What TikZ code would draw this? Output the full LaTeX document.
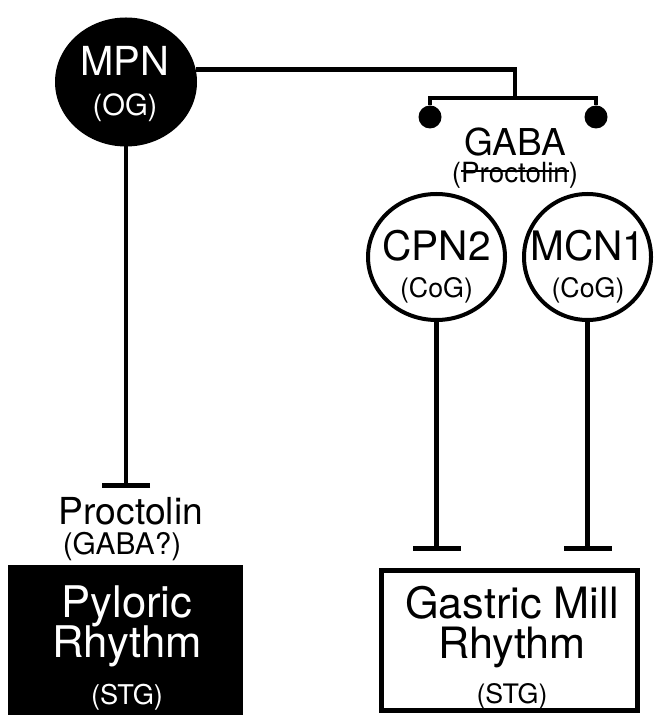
\documentclass[tikz,border=0pt]{standalone}
\usepackage{fontspec}
\setmainfont{TeX Gyre Heros}
\usetikzlibrary{positioning,arrows.meta,shapes.geometric}
\setlength{\lineskiplimit}{-20pt}
\newcommand{\fsz}[2]{{\fontsize{#1}{#1}\selectfont #2}}
\newcommand{\strk}[1]{\setbox0\hbox{#1}\rlap{\raise0.38em\hbox{\vrule height 0.6pt depth 0pt width\wd0}}\box0}
\tikzset{%
neuron/.style={draw,ellipse,line width=2pt,inner sep=0,outer sep=0},
darkneuron/.style={ellipse,fill=black,inner sep=0,outer sep=0},
celltext/.style={align=center,inner sep=0,font=\fontsize{13.4}{18.5}\selectfont},
wire/.style={line width=2.4pt},
inhib/.style={wire,-{Bar[width=24pt]}},
excite/.style={fill,circle,minimum size=11.5pt,inner sep=0,outer sep=0},
rhythmbox/.style={rectangle,inner sep=0,outer sep=0},
boxtext/.style={align=center,inner sep=0,font=\fontsize{13.5}{20}\selectfont},
tlabel/.style={inner sep=0}
}

\begin{document}
\begin{tikzpicture}[x=0.5pt,y=-0.5pt]
  \useasboundingbox (0,0) rectangle (656,715);

  % cells
  \node[darkneuron,minimum width=71pt,minimum height=64.5pt] (mpn) at (126,82) {};
  \node[celltext,text=white,font=\fontsize{14.6}{20}\selectfont] (mpntxt) at (125,84) {\fsz{20}{MPN}\\(OG)};
  \node[neuron,minimum width=68.5pt,minimum height=63pt] (cpn2) at (436.5,257) {};
  \node[celltext] (cpn2txt) at (436.5,267) {\fsz{20.3}{CPN2}\\(CoG)};
  \node[neuron,minimum width=63.5pt,minimum height=63pt] (mcn1) at (587.5,257) {};
  \node[celltext] (mcn1txt) at (588,267) {\fsz{20.3}{MCN1}\\(CoG)};

  % transmitters
  \node[tlabel,align=center,font=\fontsize{13.9}{13.2}\selectfont] (gaba) at (515,158) {\fsz{18.5}{GABA}\\(\strk{Proctolin})};
  \node[tlabel,font=\fontsize{18.6}{18.6}\selectfont] (procto) at (131,511) {Proctolin};
  \node[tlabel,font=\fontsize{14.9}{14.9}\selectfont] (proctoalt) at (122,547) {(GABA?)};

  % targets
  \node[rhythmbox,fill=black,minimum width=117.5pt,minimum height=75pt] (pyloric) at (125.5,640) {};
  \node[boxtext,text=white,font=\fontsize{13.6}{19.6}\selectfont] (pylorictxt) at (127,648) {\fsz{21.8}{Pyloric}\\\fsz{21.8}{Rhythm}\\[4pt](STG)};
  \node[rhythmbox,draw,line width=2.5pt,minimum width=128pt,minimum height=70pt] (gastric) at (509.5,640.5) {};
  \node[boxtext,font=\fontsize{13.4}{20}\selectfont] (gastrictxt) at (512,647.5) {\fsz{21.6}{Gastric Mill}\\\fsz{21.6}{Rhythm}\\[2.5pt](STG)};

  % synapses
  \coordinate (fork) at (515,98);
  \node[excite] (gabaL) at (430,117) {};
  \node[excite] (gabaR) at (596,117) {};
  \coordinate (mpnend) at (126,488);
  \coordinate (cpn2end) at (436.5,551);
  \coordinate (mcn1end) at (587.5,551);

  \draw[wire] (mpn.10) -| (fork);
  \draw[wire] (gabaL) -- (gabaL |- fork) -- (gabaR |- fork) -- (gabaR);
  \draw[inhib] (mpn) -- (mpnend);
  \draw[inhib] (cpn2) -- (cpn2end);
  \draw[inhib] (mcn1) -- (mcn1end);

\end{tikzpicture}
\end{document}
